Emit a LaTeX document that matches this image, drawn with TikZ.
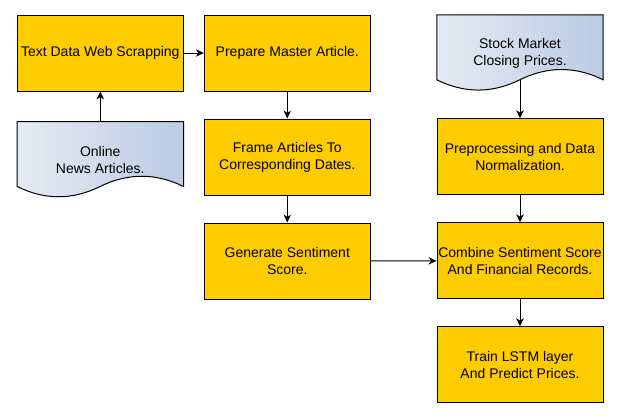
\documentclass[tikz,border=0pt]{standalone}
\usepackage{fontspec}
\setmainfont{Liberation Sans}
\usepackage{tikz}
\usetikzlibrary{arrows.meta,shapes,backgrounds}
\usetikzlibrary{positioning}
\definecolor{stepyellow}{HTML}{FFCC00}
\definecolor{docleft}{HTML}{E6EBF4}
\definecolor{docright}{HTML}{BACBE3}
\tikzstyle{stepbox}=[rectangle,draw=black,line width=1pt,fill=stepyellow,
                minimum width=166pt,minimum height=76pt,inner sep=0pt,
                align=center,font=\fontsize{14}{16.8}\selectfont]
\tikzstyle{docbox}=[rectangle,minimum width=166pt,minimum height=76pt,
                inner sep=0pt,align=center,font=\fontsize{14}{16.8}\selectfont]
\tikzstyle{docshade}=[draw=black,line width=1pt,left color=docleft,right color=docright]
\tikzstyle{line}=[draw,line width=1pt,-{Stealth[length=8pt,width=7.5pt,inset=2.5pt]}]
% wavy paper outline round a docbox node
\newcommand{\wavedoc}[1]{%
  \path[docshade] (#1.north west) -- (#1.north east) -- ([yshift=11.4pt]#1.south east)
    .. controls ([shift={(-27.67pt,25.08pt)}]#1.south east) and ([shift={(110.67pt,25.08pt)}]#1.south west)
    .. ([shift={(83pt,11.4pt)}]#1.south west)
    .. controls ([shift={(55.33pt,-2.28pt)}]#1.south west) and ([shift={(27.67pt,-2.28pt)}]#1.south west)
    .. ([yshift=11.4pt]#1.south west) -- cycle;}
\begin{document}
\begin{tikzpicture}[x=1pt,y=1pt]
\useasboundingbox (0,0) rectangle (619,-418);
% left part: news articles
\node [stepbox] (scrape) at (100.3,-53) {Text Data Web Scrapping};
\node [docbox,below=30pt of scrape] (online) {Online\\News Articles.};
\node [stepbox,right=20pt of scrape] (master) {Prepare Master Article.};
\node [stepbox,below=27pt of master] (frame) {Frame Articles To\\Corresponding Dates.};
\node [stepbox,below=27pt of frame] (sentiment) {Generate Sentiment\\Score.};
% right part: stock prices
\node [docbox,right=66pt of master] (stock) {Stock Market\\Closing Prices.};
\node [stepbox,below=27pt of stock] (normalize) {Preprocessing and Data\\Normalization.};
\node [stepbox,below=27pt of normalize] (combine) {Combine Sentiment Score\\And Financial Records.};
\node [stepbox,below=27pt of combine] (train) {Train LSTM layer\\And Predict Prices.};
\begin{scope}[on background layer]
  \wavedoc{online}
  \wavedoc{stock}
\end{scope}
\coordinate (stockwave) at ([yshift=11.4pt]stock.south);
\path [line] (online) -- (scrape);
\path [line] (scrape) -- (master);
\path [line] (master) -- (frame);
\path [line] (frame) -- (sentiment);
\path [line] (sentiment) -- (combine);
\path [line] (stockwave) -- (normalize);
\path [line] (normalize) -- (combine);
\path [line] (combine) -- (train);
\end{tikzpicture}
\end{document}
